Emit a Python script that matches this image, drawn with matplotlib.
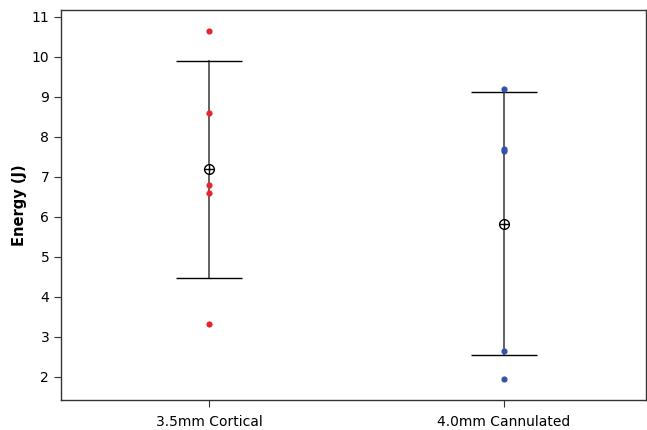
import matplotlib
matplotlib.use('Agg')
import matplotlib.pyplot as plt
import numpy as np

groups = ['3.5mm Cortical', '4.0mm Cannulated']
cortical = [10.66, 8.59, 6.79, 6.60, 3.32]
cannulated = [9.21, 7.69, 7.64, 2.66, 1.95]
colors = ['#e8242c', '#3553ad']

plt.rcParams['font.family'] = ['DejaVu Sans']

fig = plt.figure(figsize=(6.47, 4.30), dpi=100)
ax = fig.add_axes([61 / 647, 30 / 430, 585 / 647, 390 / 430])

for i, vals in enumerate([cortical, cannulated]):
    vals = np.array(vals)
    mean = vals.mean()
    sd = vals.std(ddof=1)
    # interval line and caps
    ax.plot([i, i], [mean - sd, mean + sd], color='#555555', lw=1.3, zorder=1)
    ax.hlines([mean - sd, mean + sd], i - 0.113, i + 0.113, color='black', lw=1.0, zorder=1)
    # individual values
    ax.scatter(np.full(len(vals), i), vals, s=20, color=colors[i], zorder=2, linewidths=0)
    # mean symbol
    ax.plot(i, mean, marker='o', ms=7, mfc='white', mec='black', mew=1.0, zorder=3)
    ax.plot(i, mean, marker='+', ms=7, color='black', mew=1.0, zorder=4)

ax.set_xlim(-0.502, 1.481)
ax.set_ylim(1.425, 11.175)
ax.set_yticks(range(2, 12))
ax.set_xticks([0, 1])
ax.set_xticklabels(groups)
ax.tick_params(axis='both', labelsize=10, length=5, direction='out', color='#333333')
ax.tick_params(axis='x', pad=6)
ax.set_ylabel('Energy (J)', fontsize=10.5, fontweight='bold', labelpad=3)
for s in ax.spines.values():
    s.set_color('#333333')
    s.set_linewidth(1.0)

plt.savefig('out.png', dpi=100)
